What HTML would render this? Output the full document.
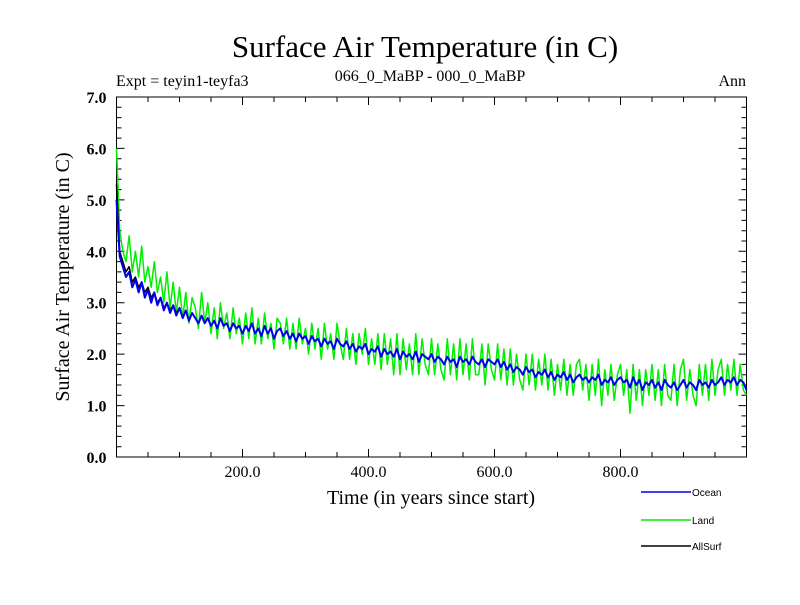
<!DOCTYPE html>
<html><head><meta charset="utf-8"><style>
body{margin:0;background:#fff;}
svg text{font-family:"Liberation Serif",serif;fill:#000;}
</style></head><body>
<svg id="chart" width="800" height="600" xmlns="http://www.w3.org/2000/svg">
<text x="425" y="57" font-size="31" text-anchor="middle">Surface Air Temperature (in C)</text>
<text x="116" y="86" font-size="16">Expt = teyin1-teyfa3</text>
<text x="430" y="81" font-size="16" text-anchor="middle">066_0_MaBP - 000_0_MaBP</text>
<text x="746" y="86" font-size="16" text-anchor="end">Ann</text>
<text transform="translate(69,277) rotate(-90)" font-size="20" text-anchor="middle">Surface Air Temperature (in C)</text>
<text x="431" y="504" font-size="20" text-anchor="middle">Time (in years since start)</text>
<g id="axes"></g>
<g id="series"></g>
<g id="legend"></g>
</svg>
<script>
const xTicks=[200,400,600,800];
const yTicks=[0,1,2,3,4,5,6,7];
const seriesNames=["AllSurf","Land","Ocean"];
const ocean=[5.0,3.9,3.7,3.5,3.6,3.3,3.45,3.2,3.4,3.1,3.25,
3.0,3.2,2.95,3.1,2.85,3.0,2.8,2.95,2.75,2.9,
2.7,2.85,2.65,2.8,2.7,2.6,2.75,2.6,2.7,2.55,
2.65,2.5,2.7,2.55,2.6,2.45,2.6,2.5,2.55,2.4,
2.55,2.45,2.6,2.4,2.5,2.35,2.55,2.4,2.5,2.3,
2.45,2.5,2.35,2.45,2.3,2.4,2.25,2.4,2.3,2.35,
2.2,2.35,2.25,2.3,2.15,2.3,2.2,2.25,2.1,2.3,
2.2,2.15,2.25,2.1,2.2,2.05,2.15,2.1,2.2,2.0,
2.1,2.05,2.15,1.95,2.1,2.0,2.05,1.95,2.1,1.9,
2.05,1.95,2.0,1.9,2.05,1.85,2.0,1.95,1.9,2.0,
1.85,1.95,1.9,1.8,1.95,1.85,1.9,1.75,1.95,1.85,
1.9,1.8,1.95,1.85,1.8,1.9,1.75,1.9,1.85,1.8,
1.9,1.75,1.85,1.7,1.8,1.65,1.75,1.7,1.6,1.75,
1.65,1.7,1.55,1.65,1.6,1.7,1.55,1.65,1.5,1.6,
1.55,1.65,1.5,1.6,1.45,1.55,1.6,1.5,1.55,1.45,
1.55,1.5,1.6,1.4,1.5,1.45,1.55,1.4,1.5,1.55,
1.45,1.5,1.35,1.55,1.4,1.5,1.3,1.45,1.4,1.5,
1.35,1.45,1.3,1.5,1.4,1.35,1.45,1.3,1.4,1.5,
1.35,1.45,1.4,1.3,1.5,1.4,1.45,1.35,1.5,1.4,
1.45,1.55,1.4,1.5,1.45,1.55,1.4,1.5,1.45,1.3];
const land=[6.0,4.4,4.0,3.8,4.3,3.6,4.0,3.5,4.1,3.4,3.7,
3.3,3.8,3.2,3.5,3.0,3.6,2.9,3.4,2.8,3.3,
2.7,3.2,2.6,3.1,2.9,2.5,3.2,2.6,3.0,2.4,
2.9,2.3,3.0,2.5,2.8,2.3,2.9,2.4,2.7,2.2,
2.8,2.3,2.9,2.2,2.7,2.2,2.8,2.3,2.6,2.1,
2.7,2.6,2.2,2.7,2.1,2.6,2.1,2.7,2.2,2.5,
2.0,2.6,2.1,2.5,1.9,2.6,2.1,2.4,1.9,2.6,
2.2,1.9,2.5,1.9,2.4,1.8,2.4,2.0,2.5,1.8,
2.3,1.8,2.4,1.7,2.4,1.8,2.3,1.6,2.4,1.6,
2.3,1.7,2.2,1.6,2.4,1.6,2.3,1.8,1.6,2.3,
1.6,2.2,1.7,1.5,2.3,1.6,2.2,1.5,2.3,1.6,
2.2,1.5,2.3,1.6,1.6,2.2,1.4,2.2,1.7,1.5,
2.2,1.5,2.1,1.4,2.1,1.4,2.0,1.5,1.3,2.0,
1.4,2.0,1.3,1.9,1.4,2.0,1.3,1.9,1.2,1.8,
1.3,1.9,1.2,1.8,1.2,1.8,1.9,1.3,1.8,1.1,
1.8,1.2,1.9,1.0,1.7,1.2,1.8,1.1,1.6,1.8,
1.2,1.7,0.85,1.8,1.1,1.7,1.0,1.7,1.2,1.8,
1.1,1.7,1.0,1.8,1.2,1.1,1.8,1.0,1.7,1.9,
1.1,1.7,1.2,1.0,1.8,1.2,1.8,1.1,1.9,1.2,
1.7,1.9,1.2,1.8,1.3,1.9,1.2,1.8,1.3,1.2];
const allsurf=[5.3,4.0,3.8,3.6,3.7,3.4,3.5,3.3,3.4,3.2,3.3,3.1,3.2,3.0,3.1,2.9,3.0,2.85,2.95,2.8,2.9];
const yearStep=5;

const X0=116.5,X1=746.5,Y0=457,Y1=97,XMAX=1000,YMAX=7;
const sx=v=>X0+(X1-X0)*v/XMAX;
const sy=v=>Y0-(Y0-Y1)*v/YMAX;
const NS="http://www.w3.org/2000/svg";
function mk(tag,attrs,parent){const e=document.createElementNS(NS,tag);for(const k in attrs)e.setAttribute(k,attrs[k]);parent.appendChild(e);return e;}
const axes=document.getElementById('axes');
const frame=mk('rect',{x:X0,y:Y1,width:X1-X0,height:Y0-Y1,fill:'none',stroke:'#000','stroke-width':1},axes);


// x ticks
for(let v=50;v<XMAX;v+=50){
  const major=v%200===0,L=major?8:5,x=sx(v);
  const t=mk('path',{d:`M${x},${Y0}v${-L}M${x},${Y1}v${L}`,stroke:'#000','stroke-width':1},axes);
  
  
}
xTicks.forEach(v=>{
  const t=mk('text',{x:sx(v),y:Y0+20,'font-size':16,'text-anchor':'middle'},axes);
  t.textContent=v.toFixed(1);
  
  
});
for(let v=0.2;v<YMAX-0.01;v+=0.2){
  const major=Math.abs(v-Math.round(v))<0.01,L=major?8:5,y=sy(v);
  const t=mk('path',{d:`M${X0},${y}h${L}M${X1},${y}h${-L}`,stroke:'#000','stroke-width':1},axes);
  
  
}
yTicks.forEach(v=>{
  const t=mk('text',{x:X0-10,y:sy(v)+6,'font-size':16,'font-weight':'bold','text-anchor':'end'},axes);
  t.textContent=v.toFixed(1);
  
  
});
const sg=document.getElementById('series');
function line(arr,color,w,name){
  const d=arr.map((v,i)=>(i?'L':'M')+sx(i*yearStep).toFixed(1)+','+sy(v).toFixed(1)).join('');
  const p=mk('path',{d:d,fill:'none',stroke:color,'stroke-width':w,'stroke-linejoin':'round'},sg);
  
  
}
line(land,'#00ee00',1.5,'land-line');
line(allsurf,'#000',1.5,'allsurf-line');
line(ocean,'#0000ee',2,'ocean-line');
const lg=document.getElementById('legend');
const items=[["Ocean","#0000ee",492],["Land","#00ee00",520],["AllSurf","#000",546]];
items.forEach(it=>{
  const g=mk('g',{},lg);
  
  
  mk('line',{x1:641,x2:691,y1:it[2],y2:it[2],stroke:it[1],'stroke-width':1.5},g);
  const t=mk('text',{x:692,y:it[2]+4,'font-size':10,style:'font-family:"Liberation Sans",sans-serif'},g);
  t.textContent=it[0];
});
</script>
</body></html>
